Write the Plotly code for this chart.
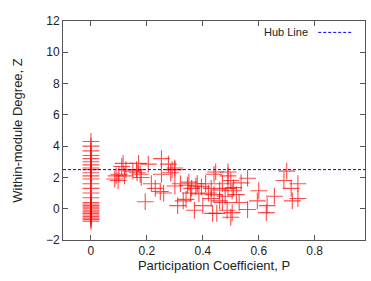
import plotly.graph_objects as go

# Nodes with participation coefficient P = 0
z_at_zero = [4.3, 4.0, 3.7, 3.4, 3.2, 3.0, 2.8, 2.6, 2.5, 2.3, 2.1, 1.9, 1.6, 1.3,
             1.0, 0.7, 0.4, 0.3, 0.2, 0.1, 0.0, -0.1, -0.2, -0.3, -0.4, -0.5,
             -0.6, -0.7, -0.8]

# Remaining nodes (P, Z)
p_other = [0.09, 0.085, 0.097, 0.11, 0.115, 0.125, 0.17, 0.163, 0.176, 0.18, 0.205,
           0.252, 0.252, 0.277, 0.29, 0.30, 0.216, 0.23, 0.248, 0.26, 0.194, 0.30,
           0.32, 0.31, 0.34, 0.356, 0.37, 0.33, 0.375, 0.386, 0.40, 0.41, 0.43, 0.43,
           0.44, 0.446, 0.435, 0.45, 0.46, 0.47, 0.49, 0.49, 0.50, 0.49, 0.505, 0.487,
           0.50, 0.505, 0.51, 0.537, 0.56, 0.56, 0.60, 0.595, 0.627, 0.63, 0.656,
           0.70, 0.69, 0.716, 0.74, 0.72, 0.74,
           0.345, 0.36, 0.38, 0.395, 0.42, 0.35, 0.46, 0.47, 0.48, 0.52, 0.53, 0.44,
           0.10, 0.12, 0.15, 0.165, 0.30, 0.285]
z_other = [2.1, 1.9, 1.8, 2.7, 2.9, 2.5, 2.9, 2.5, 2.2, 2.0, 2.85,
           3.2, 2.2, 2.85, 2.5, 2.6, 1.6, 1.3, 1.1, 1.0, 0.45, 1.45,
           1.6, 0.2, 0.6, 1.0, -0.1, 0.5, 1.45, 0.95, 0.2, 1.6, 1.3, 0.65,
           2.2, 2.35, -0.3, -0.3, 0.5, 0.4, 2.35, 2.1, 1.8, 1.3, 1.15, -0.1,
           -0.55, -0.25, 1.35, 1.65, 1.95, -0.05, 1.15, 0.5, -0.25, 0.2, 0.8,
           2.4, 1.8, 1.3, 1.6, 0.5, 0.65,
           1.5, 1.3, 1.6, 1.4, 1.0, 1.7, 1.2, 1.6, 0.8, 0.9, 0.4, 0.9,
           2.2, 2.1, 2.4, 2.3, 2.5, 2.3]

hub_z = 2.5
x_range = [-0.1, 0.98]
y_range = [-2, 12]
x_ticks = [0, 0.2, 0.4, 0.6, 0.8]
y_ticks = [-2, 0, 2, 4, 6, 8, 10, 12]

p_all = [0.0] * len(z_at_zero) + p_other
z_all = z_at_zero + z_other

FONT = "Liberation Sans, Arial"
BLUE = "#0000ff"

fig = go.Figure()
fig.add_trace(go.Scatter(
    x=p_all, y=z_all, mode="markers",
    marker=dict(symbol="cross-thin", size=12, line=dict(color="rgba(255,0,0,0.7)", width=1.1)),
    showlegend=False, cliponaxis=True, hoverinfo="skip"))
fig.add_trace(go.Scatter(
    x=x_range, y=[hub_z, hub_z], mode="lines",
    line=dict(color=BLUE, width=1, dash="3px,2px"),
    showlegend=False, hoverinfo="skip"))

fig.add_annotation(text="Hub Line", xref="paper", yref="paper", x=0.818, y=0.948,
                   xanchor="right", yanchor="middle", showarrow=False,
                   font=dict(family=FONT, size=11, color="#222"))
fig.add_shape(type="line", xref="paper", yref="paper", x0=0.845, x1=0.957,
              y0=0.948, y1=0.948, line=dict(color=BLUE, width=1, dash="3px,2px"))

axis_common = dict(showline=True, linecolor="#555", linewidth=1, mirror="ticks",
                   ticks="inside", ticklen=5, tickcolor="#555", showgrid=False,
                   zeroline=False, automargin=False,
                   tickfont=dict(family=FONT, size=12, color="#222"))

fig.update_xaxes(range=x_range, tickvals=x_ticks, ticktext=["0", "0.2", "0.4", "0.6", "0.8"],
                 title=dict(text="Participation Coefficient, P", standoff=0,
                            font=dict(family=FONT, size=13, color="#222")),
                 **axis_common)
fig.update_yaxes(range=y_range, tickvals=y_ticks,
                 title=dict(text="Within-module Degree, Z", standoff=20,
                            font=dict(family=FONT, size=13, color="#222")),
                 **axis_common)

fig.update_layout(width=371, height=281, margin=dict(l=63, r=6, t=21, b=41),
                  plot_bgcolor="white", paper_bgcolor="white")

fig.write_html("out.html", config={"displayModeBar": False},
               post_script="document.body.style.margin='0';document.body.style.overflow='hidden';")
